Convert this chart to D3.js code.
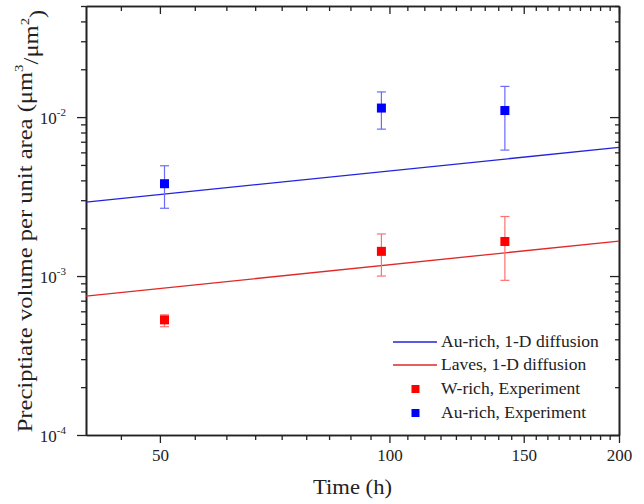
<!DOCTYPE html>
<html><head><meta charset="utf-8">
<script src="https://cdn.jsdelivr.net/npm/d3@7"></script>
<style>
body{margin:0;background:#fff;}
text{font-family:"Liberation Serif","DejaVu Serif",serif;fill:#222;}
</style></head>
<body><svg id="c" width="644" height="504"></svg>
<script>
// ---- data ----
const lineTimes = [40, 200];
const auRichModel = [2.92e-3, 6.45e-3];
const lavesModel = [7.48e-4, 1.66e-3];
const expTimes = [50.7, 97.6, 141.7];
const auRichExp = [3.81e-3, 1.14e-2, 1.10e-2];
const auRichLo = [2.67e-3, 8.4e-3, 6.2e-3];
const auRichHi = [4.94e-3, 1.44e-2, 1.56e-2];
const wRichExp = [5.3e-4, 1.43e-3, 1.65e-3];
const wRichLo = [4.8e-4, 1.0e-3, 9.4e-4];
const wRichHi = [5.7e-4, 1.84e-3, 2.37e-3];
const xMajorTicks = [50, 100, 150, 200];
const yMajorTicks = [1e-4, 1e-3, 1e-2];
const yTickExps = ["-4", "-3", "-2"];
const legendLabels = ["Au-rich, 1-D diffusion", "Laves, 1-D diffusion", "W-rich, Experiment", "Au-rich, Experiment"];
const xTitle = "Time (h)";
const yTitle = "Preciptiate volume per unit area (\u03bcm";

// ---- layout ----
const L = 86, R = 619, T = 6, B = 435;
const svg = d3.select("#c");
const x = d3.scaleLog().domain([40, 200]).range([L, R]);
const y = d3.scaleLog().domain([1e-4, 0.05]).range([B, T]);

const xMinor = [];
[0, 50, 100, 150].forEach(m => { for (let k = 1; k <= 8; k++) { const v = m + 50 * k / 9; if (v >= 40 && v <= 200) xMinor.push(v); } });
const yMinor = [];
[-4, -3, -2].forEach(e => { for (let k = 2; k <= 9; k++) { const v = k * Math.pow(10, e); if (v <= 0.05) yMinor.push(v); } });

const axCol = "#222";
function styleAxis(g) {
  g.selectAll("path.domain").attr("stroke", axCol).attr("stroke-width", 1.6);
  g.selectAll(".tick line").attr("stroke", axCol).attr("stroke-width", 1.3);
}
// bottom
svg.append("g").attr("transform", `translate(0,${B})`)
  .call(d3.axisBottom(x).tickValues(xMinor).tickSize(5).tickSizeOuter(0).tickFormat(""))
  .call(styleAxis);
const gb = svg.append("g").attr("transform", `translate(0,${B})`)
  .call(d3.axisBottom(x).tickValues(xMajorTicks).tickSize(8).tickSizeOuter(0).tickPadding(6).tickFormat(d3.format("d")))
  .call(styleAxis);
gb.selectAll("text").attr("font-size", 17).attr("font-family", "Liberation Serif").attr("fill", "#222");
// top
svg.append("g").attr("transform", `translate(0,${T})`)
  .call(d3.axisTop(x).tickValues(xMinor).tickSize(-5).tickSizeOuter(0).tickFormat(""))
  .call(styleAxis);
svg.append("g").attr("transform", `translate(0,${T})`)
  .call(d3.axisTop(x).tickValues(xMajorTicks).tickSize(-8).tickSizeOuter(0).tickFormat(""))
  .call(styleAxis);
// left
svg.append("g").attr("transform", `translate(${L},0)`)
  .call(d3.axisLeft(y).tickValues(yMinor).tickSize(5).tickSizeOuter(0).tickFormat(""))
  .call(styleAxis);
const gl = svg.append("g").attr("transform", `translate(${L},0)`)
  .call(d3.axisLeft(y).tickValues(yMajorTicks).tickSize(9).tickSizeOuter(0).tickPadding(4).tickFormat(""))
  .call(styleAxis);
gl.selectAll(".tick").each(function(d, i) {
  const t = d3.select(this).select("text").attr("font-size", 17).attr("fill", "#222").attr("dy", "0.4em").attr("x", -20);
  t.text("10");
  t.append("tspan").attr("font-size", 11).attr("dy", "-0.75em").text(yTickExps[i]);
});
// right
svg.append("g").attr("transform", `translate(${R},0)`)
  .call(d3.axisRight(y).tickValues(yMinor).tickSize(-4).tickSizeOuter(0).tickFormat(""))
  .call(styleAxis);
svg.append("g").attr("transform", `translate(${R},0)`)
  .call(d3.axisRight(y).tickValues(yMajorTicks).tickSize(-9).tickSizeOuter(0).tickFormat(""))
  .call(styleAxis);

// ---- model lines ----
const line = d3.line().x(d => x(d[0])).y(d => y(d[1]));
svg.append("path").datum(lineTimes.map((t, i) => [t, auRichModel[i]]))
  .attr("d", line).attr("fill", "none").attr("stroke", "#2323dd").attr("stroke-width", 1.3);
svg.append("path").datum(lineTimes.map((t, i) => [t, lavesModel[i]]))
  .attr("d", line).attr("fill", "none").attr("stroke", "#e02828").attr("stroke-width", 1.3);

// ---- experiments ----
function drawExp(vals, lo, hi, col, barCol) {
  const g = svg.append("g");
  expTimes.forEach((t, i) => {
    const cx = x(t);
    g.append("line").attr("x1", cx).attr("x2", cx).attr("y1", y(lo[i])).attr("y2", y(hi[i])).attr("stroke", barCol).attr("stroke-width", 1.2);
    [lo[i], hi[i]].forEach(v => g.append("line").attr("x1", cx - 4.5).attr("x2", cx + 4.5).attr("y1", y(v)).attr("y2", y(v)).attr("stroke", barCol).attr("stroke-width", 1.2));
    g.append("rect").attr("x", cx - 4.5).attr("y", y(vals[i]) - 4.5).attr("width", 9).attr("height", 9).attr("fill", col);
  });
}
drawExp(auRichExp, auRichLo, auRichHi, "#0000ff", "#6a6aff");
drawExp(wRichExp, wRichLo, wRichHi, "#ff0000", "#ff7070");

// helper: stretch text horizontally to a target width (Palatino-like width)
function stretch(sel, target) {
  const w = sel.node().getComputedTextLength();
  return w > 0 ? target / w : 1;
}

// ---- legend ----
const rowsY = [342, 365, 389, 413];
const legCols = ["#2323dd", "#e02828", "#ff0000", "#0000ff"];
let legScale = 1;
legendLabels.forEach((lab, i) => {
  if (i < 2) svg.append("line").attr("x1", 393).attr("x2", 437).attr("y1", rowsY[i]).attr("y2", rowsY[i]).attr("stroke", legCols[i]).attr("stroke-width", 1.3);
  else svg.append("rect").attr("x", 411.5).attr("y", rowsY[i] - 4).attr("width", 8).attr("height", 8).attr("fill", legCols[i]);
  const g = svg.append("g").attr("transform", `translate(441,${rowsY[i]})`);
  const t = g.append("text").attr("dy", "0.33em").attr("font-size", 16.5).text(lab);
  if (i === 0) legScale = stretch(t, 158);
  g.attr("transform", `translate(441,${rowsY[i]}) scale(${legScale},1)`);
});

// ---- titles ----
const xg = svg.append("g");
const xt = xg.append("text").attr("text-anchor", "middle").attr("font-size", 21).text(xTitle);
xg.attr("transform", `translate(${(L + R) / 2},494) scale(${stretch(xt, 79)},1)`);

const yg = svg.append("g");
const yt = yg.append("text").attr("text-anchor", "middle").attr("font-size", 21.5);
yt.append("tspan").text(yTitle);
yt.append("tspan").attr("font-size", 13).attr("dy", "-0.7em").text("3");
yt.append("tspan").attr("dy", "0.7em").text("/\u03bcm");
yt.append("tspan").attr("font-size", 13).attr("dy", "-0.7em").text("2");
yt.append("tspan").attr("dy", "0.7em").text(")");
yg.attr("transform", `translate(32,221) rotate(-90) scale(${stretch(yt, 423)},1)`);
</script></body></html>
